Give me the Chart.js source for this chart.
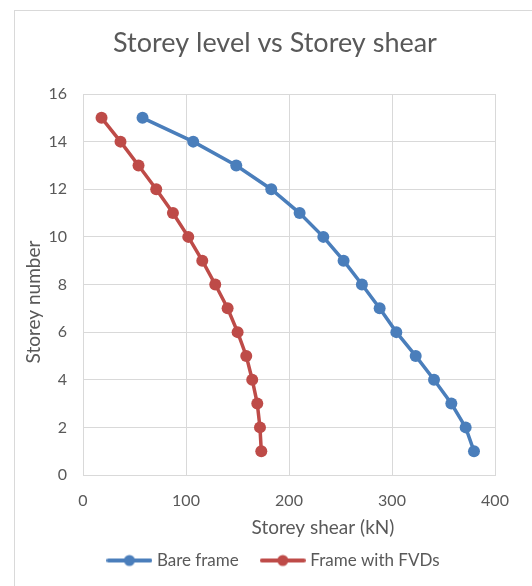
<!DOCTYPE html>
<html>
<head>
<meta charset="utf-8">
<script src="https://cdn.jsdelivr.net/npm/chart.js@4"></script>
<style>
  html, body { margin: 0; padding: 0; background: #ffffff; }
  #wrap { width: 532px; height: 586px; position: relative; }
</style>
</head>
<body>
<div id="wrap"><canvas id="c" width="532" height="586"></canvas></div>
<script>
const storeys = [15, 14, 13, 12, 11, 10, 9, 8, 7, 6, 5, 4, 3, 2, 1];
const bareFrame = [57.8, 107, 148.8, 182.8, 210.3, 233.3, 253, 270.8, 288, 304.2, 323, 340.8, 357.6, 371.5, 379.6];
const frameFVD = [18, 36.4, 53.9, 71.1, 87.3, 102.2, 115.8, 128.4, 140.4, 150.1, 158.5, 164.3, 169.2, 171.8, 173.1];
const seriesNames = ['Bare frame', 'Frame with FVDs'];
const xTicks = [0, 100, 200, 300, 400];
const yTicks = [0, 2, 4, 6, 8, 10, 12, 14, 16];
const chartTitle = 'Storey level vs Storey shear';
const xTitle = 'Storey shear (kN)';
const yTitle = 'Storey number';

const BLUE = '#4A7EBB';
const RED = '#BE4B48';
const TXT = '#595959';
const GRID = '#D9D9D9';
const FONT = 'Lato';

function legendIcon(color) {
  const c = document.createElement('canvas');
  c.width = 46; c.height = 14;
  const g = c.getContext('2d');
  g.strokeStyle = color; g.lineWidth = 4; g.lineCap = 'round';
  g.beginPath(); g.moveTo(2, 7); g.lineTo(44, 7); g.stroke();
  g.fillStyle = color;
  g.beginPath(); g.arc(23, 7, 5.5, 0, Math.PI * 2); g.fill();
  return c;
}
const icons = [legendIcon(BLUE), legendIcon(RED)];

const toPts = (xs) => xs.map((v, i) => ({ x: v, y: storeys[i] }));

const decor = {
  id: 'decor',
  beforeDraw(chart) {
    const ctx = chart.ctx;
    ctx.save();
    ctx.strokeStyle = GRID; ctx.lineWidth = 1;
    ctx.strokeRect(14.5, 10.5, 600, 700);
    ctx.restore();
  },
  afterDraw(chart) {
    const ctx = chart.ctx;
    ctx.save();
    ctx.fillStyle = TXT;
    ctx.font = '19px ' + FONT;
    ctx.textAlign = 'center'; ctx.textBaseline = 'middle';
    ctx.fillText(xTitle, 323, 528);
    ctx.translate(34, 302);
    ctx.rotate(-Math.PI / 2);
    ctx.fillText(yTitle, 0, 0);
    ctx.restore();
  }
};

new Chart(document.getElementById('c'), {
  type: 'scatter',
  data: {
    datasets: [
      { label: seriesNames[0], data: toPts(bareFrame), showLine: true,
        borderColor: BLUE, backgroundColor: BLUE, borderWidth: 3.5,
        pointRadius: 6, pointHoverRadius: 6, pointBorderWidth: 0 },
      { label: seriesNames[1], data: toPts(frameFVD), showLine: true,
        borderColor: RED, backgroundColor: RED, borderWidth: 3.5,
        pointRadius: 6, pointHoverRadius: 6, pointBorderWidth: 0 }
    ]
  },
  options: {
    responsive: false,
    animation: false,
    events: [],
    layout: { padding: { left: 46, right: 28, top: 0, bottom: 7 } },
    plugins: {
      tooltip: { enabled: false },
      title: {
        display: true, text: chartTitle, color: TXT,
        font: { family: FONT, size: 27, weight: 'normal', lineHeight: 1.2 },
        padding: { top: 27, bottom: 34.6 }
      },
      legend: {
        position: 'bottom',
        labels: {
          color: TXT, padding: 25, usePointStyle: true, pointStyleWidth: 38,
          font: { family: FONT, size: 17 },
          generateLabels(chart) {
            const items = Chart.defaults.plugins.legend.labels.generateLabels(chart);
            items.forEach((it, i) => { it.pointStyle = icons[i]; });
            return items;
          }
        }
      }
    },
    scales: {
      x: {
        type: 'linear', min: 0, max: 400,
        afterBuildTicks(s) { s.ticks = xTicks.map(v => ({ value: v })); },
        afterFit(s) { s.height = 52; },
        grid: { color: GRID, drawTicks: false },
        border: { color: GRID },
        ticks: { color: TXT, padding: 16, font: { family: FONT, size: 16 } }
      },
      y: {
        type: 'linear', min: 0, max: 16,
        afterBuildTicks(s) { s.ticks = yTicks.map(v => ({ value: v })); },
        afterFit(s) { s.width = 37; },
        grid: { color: GRID, drawTicks: false },
        border: { color: GRID },
        ticks: { color: TXT, padding: 16, font: { family: FONT, size: 16 } }
      },
      yPad: {
        type: 'linear', position: 'right', min: 0, max: 16,
        afterFit(s) { s.width = 9; },
        grid: { display: false },
        border: { display: false },
        ticks: { display: false }
      }
    }
  },
  plugins: [decor]
});
</script>
</body>
</html>
